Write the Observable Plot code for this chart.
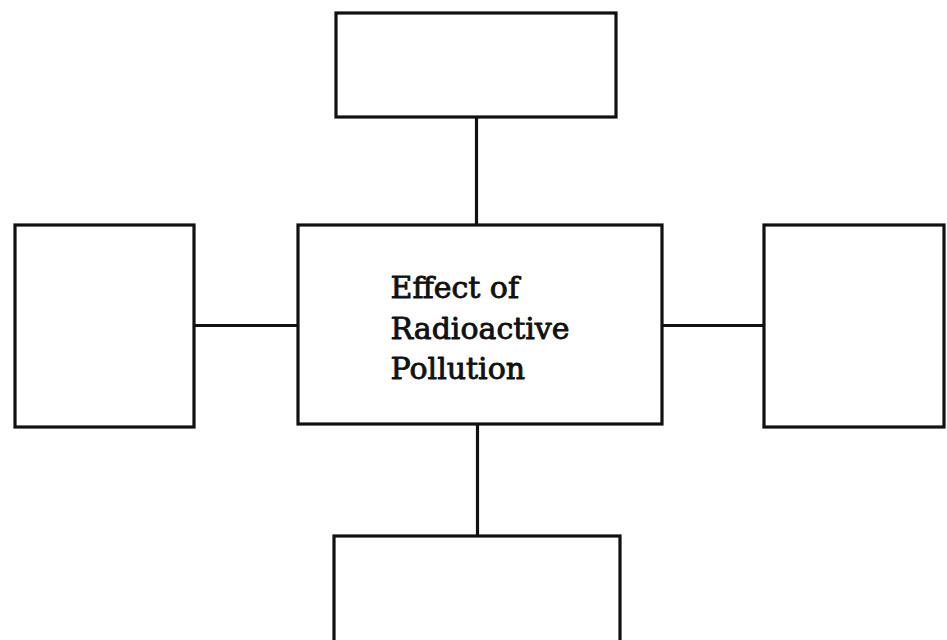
<!DOCTYPE html>
<html>
<head>
<meta charset="utf-8">
<script src="https://cdn.jsdelivr.net/npm/d3@7"></script>
<script src="https://cdn.jsdelivr.net/npm/@observablehq/plot@0.6"></script>
<style>
  html, body { margin: 0; padding: 0; background: #fff; }
  #chart svg { display: block; }
</style>
</head>
<body>
<div id="chart"></div>
<script>
// Diagram boxes (page pixel coordinates)
const boxNames = ["top", "center", "left", "right", "bottom"];
const boxLeft   = [336, 298, 15, 764, 334];
const boxRight  = [616, 662, 194, 944, 620];
const boxTop    = [13, 225, 225, 225, 536];
const boxBottom = [117, 424, 427, 427, 680];

// Connectors between the central box and the outer boxes
const linkNames = ["up", "down", "leftLink", "rightLink"];
const linkX1 = [476, 477, 194, 662];
const linkY1 = [117, 424, 325, 325];
const linkX2 = [476, 477, 298, 764];
const linkY2 = [225, 536, 325, 325];

// Central label
const labelLines = ["Effect of", "Radioactive", "Pollution"];
const labelX = 390;
const labelBaselines = [297, 338, 378];

const boxes = boxNames.map((n, i) => ({n, x1: boxLeft[i], x2: boxRight[i], y1: boxTop[i], y2: boxBottom[i]}));
const links = linkNames.map((n, i) => ({n, x1: linkX1[i], y1: linkY1[i], x2: linkX2[i], y2: linkY2[i]}));
const labels = labelLines.map((t, i) => ({t, x: labelX, y: labelBaselines[i]}));

const chart = Plot.plot({
  width: 947,
  height: 640,
  margin: 0,
  x: {domain: [0, 947], range: [0, 947], axis: null},
  y: {domain: [0, 640], range: [0, 640], axis: null},
  style: {background: "#fff"},
  marks: [
    Plot.link(links, {x1: "x1", y1: "y1", x2: "x2", y2: "y2", stroke: "#111", strokeWidth: 3.2}),
    Plot.rect(boxes, {x1: "x1", x2: "x2", y1: "y1", y2: "y2", fill: "#fff", stroke: "#111", strokeWidth: 3.2, clip: true}),
    Plot.text(labels, {x: "x", y: "y", text: "t", textAnchor: "start", lineAnchor: "bottom",
      fontFamily: "DejaVu Serif", fontSize: 30, fill: "#111", stroke: "#111", strokeWidth: 0.9})
  ]
});
document.getElementById("chart").append(chart);
</script>
</body>
</html>
